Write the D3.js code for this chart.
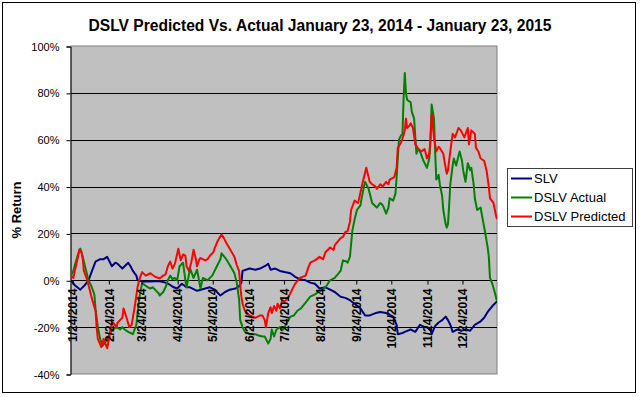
<!DOCTYPE html>
<html><head><meta charset="utf-8">
<script src="https://cdn.jsdelivr.net/npm/d3@7"></script>
<style>body{margin:0;background:#fff}svg{display:block}text{font-family:Arial,"Liberation Sans",sans-serif;fill:#000}</style>
</head><body><svg id="c" width="640" height="397"></svg>
<script>
const title = "DSLV Predicted Vs. Actual January 23, 2014 - January 23, 2015";
const yTitle = "% Return";
const seriesNames = ["SLV", "DSLV Actual", "DSLV Predicted"];
const seriesColors = ["#000080", "#008000", "#FF0000"];
const yTicks = [-40, -20, 0, 20, 40, 60, 80, 100];
const xTickDates = ["2014-01-24","2014-02-24","2014-03-24","2014-04-24","2014-05-24","2014-06-24","2014-07-24","2014-08-24","2014-09-24","2014-10-24","2014-11-24","2014-12-24"];
const xDomain = ["2014-01-23", "2015-01-23"];

const slv = [["2014-01-23",0],["2014-01-26",-2],["2014-01-31",-4],["2014-02-04",-2],["2014-02-07",0],["2014-02-10",4],["2014-02-13",8],["2014-02-17",9],["2014-02-20",9],["2014-02-23",10],["2014-02-25",8],["2014-02-27",6],["2014-03-02",7.5],["2014-03-04",7],["2014-03-08",5],["2014-03-10",6],["2014-03-13",7.5],["2014-03-15",6],["2014-03-17",4],["2014-03-20",2],["2014-03-21",0],["2014-03-26",-0.5],["2014-04-01",-0.5],["2014-04-08",-0.3],["2014-04-14",-1],["2014-04-18",-2],["2014-04-21",-3],["2014-04-24",-3.5],["2014-04-28",-1.5],["2014-05-02",-3],["2014-05-05",-3],["2014-05-11",-4.5],["2014-05-18",-3.5],["2014-05-22",-3],["2014-05-26",-4],["2014-05-31",-6.5],["2014-06-04",-5],["2014-06-08",-4],["2014-06-13",-3.5],["2014-06-16",-2.5],["2014-06-18",-1],["2014-06-19",4],["2014-06-25",5],["2014-06-30",4.5],["2014-07-04",5],["2014-07-08",6],["2014-07-11",7],["2014-07-13",4.5],["2014-07-17",5],["2014-07-21",4],["2014-07-25",3.5],["2014-07-30",3],["2014-08-03",1.5],["2014-08-07",0.5],["2014-08-12",0],["2014-08-16",-1],["2014-08-20",-1.5],["2014-08-24",-3.5],["2014-08-29",-3],["2014-09-02",-4],["2014-09-06",-5],["2014-09-11",-7],["2014-09-15",-7.5],["2014-09-19",-8.5],["2014-09-23",-10],["2014-09-28",-12],["2014-10-02",-15],["2014-10-06",-15],["2014-10-11",-14],["2014-10-15",-13.5],["2014-10-20",-14],["2014-10-26",-15.5],["2014-10-29",-19],["2014-10-30",-23],["2014-11-03",-22.5],["2014-11-05",-22],["2014-11-10",-21],["2014-11-14",-22],["2014-11-18",-19],["2014-11-22",-20],["2014-11-24",-20],["2014-11-27",-21],["2014-11-28",-23],["2014-12-01",-19.5],["2014-12-04",-18],["2014-12-07",-17],["2014-12-10",-15.5],["2014-12-12",-17],["2014-12-14",-19],["2014-12-16",-22],["2014-12-20",-21],["2014-12-24",-21.5],["2014-12-27",-21],["2014-12-31",-21.5],["2015-01-04",-19],["2015-01-09",-17.5],["2015-01-12",-16],["2015-01-15",-13.5],["2015-01-19",-11],["2015-01-23",-9]];

const dslvActual = [["2014-01-23",2],["2014-01-25",4],["2014-01-26",6],["2014-01-29",11],["2014-01-31",13.5],["2014-02-01",12],["2014-02-03",8],["2014-02-05",4],["2014-02-07",0],["2014-02-09",-2],["2014-02-12",-6],["2014-02-13",-12],["2014-02-15",-20],["2014-02-17",-25],["2014-02-19",-28],["2014-02-22",-26],["2014-02-24",-24],["2014-02-25",-23],["2014-02-28",-21],["2014-03-03",-20],["2014-03-06",-21],["2014-03-08",-20],["2014-03-10",-21],["2014-03-13",-22],["2014-03-15",-22.5],["2014-03-17",-23],["2014-03-20",-19],["2014-03-21",-14],["2014-03-23",-6],["2014-03-25",-1],["2014-03-27",-2],["2014-03-30",-3],["2014-04-01",-3.5],["2014-04-03",-3],["2014-04-05",-4],["2014-04-08",-5.5],["2014-04-09",-6.5],["2014-04-12",-5],["2014-04-14",-3],["2014-04-16",0],["2014-04-18",2],["2014-04-20",0.5],["2014-04-22",1],["2014-04-24",0],["2014-04-26",6],["2014-04-29",7.5],["2014-05-01",0],["2014-05-02",-3],["2014-05-05",5],["2014-05-08",1],["2014-05-11",4.5],["2014-05-14",-3.5],["2014-05-16",1],["2014-05-20",0],["2014-05-24",2],["2014-05-28",6],["2014-05-31",9],["2014-06-01",11.5],["2014-06-05",9],["2014-06-08",6.5],["2014-06-12",3],["2014-06-14",-1],["2014-06-16",-8],["2014-06-17",-17],["2014-06-19",-20],["2014-06-21",-22],["2014-06-25",-23],["2014-06-30",-23],["2014-07-02",-23.5],["2014-07-06",-24],["2014-07-08",-24],["2014-07-10",-26],["2014-07-11",-27],["2014-07-13",-25],["2014-07-14",-21],["2014-07-16",-24],["2014-07-18",-21],["2014-07-21",-20],["2014-07-24",-21],["2014-07-26",-19],["2014-07-30",-15.5],["2014-08-02",-15],["2014-08-05",-13],["2014-08-08",-12],["2014-08-12",-9.5],["2014-08-16",-7],["2014-08-20",-6],["2014-08-23",-5],["2014-08-26",-4],["2014-08-29",-3],["2014-09-02",0],["2014-09-06",1],["2014-09-11",4],["2014-09-13",8.5],["2014-09-16",8],["2014-09-17",7.5],["2014-09-19",10],["2014-09-21",21],["2014-09-23",26],["2014-09-25",30],["2014-09-28",32],["2014-09-29",35],["2014-10-01",40],["2014-10-02",42],["2014-10-05",39],["2014-10-06",37],["2014-10-08",33],["2014-10-10",32],["2014-10-12",31],["2014-10-15",33],["2014-10-17",32],["2014-10-18",31],["2014-10-20",28.5],["2014-10-22",31],["2014-10-23",35],["2014-10-26",34],["2014-10-28",37],["2014-10-29",44],["2014-10-31",60],["2014-11-02",62],["2014-11-03",62],["2014-11-04",78],["2014-11-05",88.5],["2014-11-06",80],["2014-11-07",77],["2014-11-10",76],["2014-11-11",72],["2014-11-13",69],["2014-11-14",61],["2014-11-15",54],["2014-11-16",56],["2014-11-18",55],["2014-11-21",51],["2014-11-24",48],["2014-11-26",52],["2014-11-27",60],["2014-11-28",75],["2014-11-29",72],["2014-11-30",69],["2014-12-01",55],["2014-12-02",43],["2014-12-04",45],["2014-12-05",41],["2014-12-07",36],["2014-12-08",30],["2014-12-10",24],["2014-12-11",22.5],["2014-12-12",24],["2014-12-13",32],["2014-12-14",41],["2014-12-16",49],["2014-12-17",52],["2014-12-19",49],["2014-12-21",53],["2014-12-22",55],["2014-12-24",51],["2014-12-25",47],["2014-12-27",42],["2014-12-29",50],["2014-12-31",47],["2015-01-01",48],["2015-01-03",41],["2015-01-04",35],["2015-01-06",30],["2015-01-09",31],["2015-01-10",28],["2015-01-13",20],["2015-01-15",14],["2015-01-16",10],["2015-01-17",1],["2015-01-19",-1.5],["2015-01-21",-5],["2015-01-23",-9]];

const dslvPredicted = [["2014-01-23",2],["2014-01-25",1],["2014-01-27",5.5],["2014-01-29",10],["2014-01-30",13],["2014-02-01",12],["2014-02-02",9.5],["2014-02-03",4],["2014-02-06",0],["2014-02-08",-4],["2014-02-10",-8],["2014-02-13",-13],["2014-02-14",-20],["2014-02-15",-25],["2014-02-18",-28.5],["2014-02-20",-25],["2014-02-23",-29],["2014-02-25",-24],["2014-02-26",-20],["2014-02-28",-18],["2014-03-03",-20],["2014-03-04",-18],["2014-03-06",-17],["2014-03-08",-16],["2014-03-09",-12],["2014-03-11",-15],["2014-03-14",-20],["2014-03-16",-19],["2014-03-19",-10],["2014-03-21",-3],["2014-03-23",1],["2014-03-25",3.5],["2014-03-28",2],["2014-04-01",3],["2014-04-05",1.5],["2014-04-08",1],["2014-04-09",0.8],["2014-04-12",2],["2014-04-14",2.5],["2014-04-16",6],["2014-04-18",8],["2014-04-20",5],["2014-04-22",7],["2014-04-25",13.5],["2014-04-27",8.5],["2014-04-29",11],["2014-05-01",10.5],["2014-05-02",6],["2014-05-04",4],["2014-05-06",7.5],["2014-05-08",13],["2014-05-10",9],["2014-05-11",6],["2014-05-13",9],["2014-05-14",9.5],["2014-05-18",8.5],["2014-05-20",9],["2014-05-22",10.5],["2014-05-25",12],["2014-05-26",13.5],["2014-05-28",16],["2014-05-30",18],["2014-06-01",19.5],["2014-06-03",18],["2014-06-05",16],["2014-06-08",13.5],["2014-06-12",10],["2014-06-14",6.5],["2014-06-16",4],["2014-06-17",-2],["2014-06-18",-7],["2014-06-19",-10],["2014-06-21",-13],["2014-06-25",-15],["2014-06-30",-16],["2014-07-04",-15],["2014-07-06",-15],["2014-07-08",-17],["2014-07-09",-20],["2014-07-11",-14],["2014-07-13",-11.5],["2014-07-14",-14],["2014-07-16",-11],["2014-07-18",-13],["2014-07-19",-10],["2014-07-21",-12],["2014-07-23",-8.5],["2014-07-25",-9],["2014-07-28",-7.5],["2014-07-30",-5.5],["2014-08-03",-1.5],["2014-08-07",1],["2014-08-12",2],["2014-08-14",5],["2014-08-16",7.5],["2014-08-20",8.5],["2014-08-24",10],["2014-08-27",9],["2014-08-29",12],["2014-09-02",14],["2014-09-05",13],["2014-09-06",15],["2014-09-11",18],["2014-09-13",18.5],["2014-09-15",20.5],["2014-09-17",21],["2014-09-19",25],["2014-09-20",30],["2014-09-23",34],["2014-09-26",33],["2014-09-28",37.5],["2014-09-30",42],["2014-10-03",48],["2014-10-05",44],["2014-10-06",42],["2014-10-08",41],["2014-10-11",40],["2014-10-12",39],["2014-10-15",41],["2014-10-17",40],["2014-10-20",42],["2014-10-22",41],["2014-10-23",43],["2014-10-27",44],["2014-10-29",48],["2014-10-30",56.5],["2014-11-02",59],["2014-11-04",62],["2014-11-05",64],["2014-11-06",69],["2014-11-07",65],["2014-11-09",66],["2014-11-10",67],["2014-11-12",65],["2014-11-14",58],["2014-11-16",56.5],["2014-11-19",55],["2014-11-22",56],["2014-11-24",52],["2014-11-26",54],["2014-11-27",60],["2014-11-28",71],["2014-11-29",66],["2014-11-30",61],["2014-12-02",55],["2014-12-04",57],["2014-12-05",56.5],["2014-12-08",54],["2014-12-10",48],["2014-12-11",45.5],["2014-12-12",47],["2014-12-14",55],["2014-12-16",62.5],["2014-12-18",61],["2014-12-21",65],["2014-12-23",64],["2014-12-26",61],["2014-12-29",65],["2014-12-30",58],["2015-01-01",64],["2015-01-04",62.5],["2015-01-05",56.5],["2015-01-07",55],["2015-01-09",52],["2015-01-12",51],["2015-01-14",47],["2015-01-16",40],["2015-01-17",35],["2015-01-20",33],["2015-01-22",28],["2015-01-23",26]];

const parse = d3.timeParse("%Y-%m-%d");
const fmt = d3.timeFormat("%-m/%-d/%Y");
const svg = d3.select("#c");
const W = 640, H = 397;
const P = {l: 71, r: 497, t: 46, b: 374};

// outer frame
svg.append("rect").attr("x", 0).attr("y", 0).attr("width", W).attr("height", H).attr("fill", "#fff");
svg.append("rect").attr("x", 2.5).attr("y", 2.5).attr("width", 633).attr("height", 390)
  .attr("fill", "#fff").attr("stroke", "#000").attr("stroke-width", 1);

const x = d3.scaleTime().domain(xDomain.map(parse)).range([P.l, P.r]);
const y = d3.scaleLinear().domain([-40, 100]).range([P.b, P.t]);

// plot area
svg.append("rect").attr("x", P.l).attr("y", P.t).attr("width", P.r - P.l).attr("height", P.b - P.t)
  .attr("fill", "#C0C0C0").attr("stroke", "#808080").attr("stroke-width", 1);

// grid lines
svg.append("g").selectAll("line").data(yTicks.filter(v => v > -40 && v < 100)).join("line")
  .attr("x1", P.l).attr("x2", P.r).attr("y1", d => Math.round(y(d)) + 0.5).attr("y2", d => Math.round(y(d)) + 0.5)
  .attr("stroke", "#000").attr("stroke-width", 1);

// y axis
const yAxis = d3.axisLeft(y).tickValues(yTicks).tickFormat(d => d + "%").tickSize(4).tickPadding(7);
const gy = svg.append("g").attr("transform", `translate(${P.l - 0.5},0.5)`).call(yAxis);
gy.select(".domain").attr("stroke", "#000");
gy.selectAll(".tick line").attr("stroke", "#000");
gy.selectAll("text").attr("font-size", 11).attr("font-family", "Arial, 'Liberation Sans', sans-serif").attr("fill", "#000");

// lines
const clipId = "clip";
svg.append("clipPath").attr("id", clipId).append("rect")
  .attr("x", P.l).attr("y", P.t).attr("width", P.r - P.l).attr("height", P.b - P.t);
const line = d3.line().x(d => x(parse(d[0]))).y(d => y(d[1]));
const allSeries = [slv, dslvActual, dslvPredicted];
const lg = svg.append("g").attr("clip-path", `url(#${clipId})`);
allSeries.forEach((s, i) => {
  lg.append("path").datum(s).attr("d", line).attr("fill", "none")
    .attr("stroke", seriesColors[i]).attr("stroke-width", 2).attr("stroke-linejoin", "round");
});

// x axis at 0%
const xAxis = d3.axisBottom(x).tickValues(xTickDates.map(parse)).tickFormat(fmt).tickSize(4).tickSizeOuter(0);
const gx = svg.append("g").attr("transform", `translate(0.5,${Math.round(y(0)) + 0.5})`).call(xAxis);
gx.select(".domain").remove();
gx.selectAll(".tick line").attr("stroke", "#000");
gx.selectAll("text").attr("font-size", 12).attr("font-weight", "bold").attr("font-family", "Arial, 'Liberation Sans', sans-serif").attr("fill", "#000")
  .attr("transform", "rotate(-90)").attr("text-anchor", "end").attr("x", -8).attr("y", 0).attr("dy", "0.35em");

// title
svg.append("text").attr("x", 320).attr("y", 31).attr("text-anchor", "middle")
  .attr("font-size", 15.6).attr("font-weight", "bold").text(title);

// y title
svg.append("text").attr("transform", `translate(21,${(P.t + P.b) / 2}) rotate(-90)`).attr("text-anchor", "middle")
  .attr("font-size", 13).attr("font-weight", "bold").text(yTitle);

// legend
const L = {x: 507, y: 168, w: 125, h: 58};
svg.append("rect").attr("x", L.x + 0.5).attr("y", L.y + 0.5).attr("width", L.w).attr("height", L.h)
  .attr("fill", "#fff").attr("stroke", "#404040").attr("stroke-width", 1);
const items = svg.append("g").selectAll("g").data(seriesNames).join("g")
  .attr("transform", (d, i) => `translate(${L.x},${L.y + 10 + i * 19})`);
items.append("line").attr("x1", 4).attr("x2", 25).attr("y1", 0.5).attr("y2", 0.5)
  .attr("stroke", (d, i) => seriesColors[i]).attr("stroke-width", 2);
items.append("text").attr("x", 27).attr("y", 0).attr("dy", "0.36em").attr("font-size", 13).text(d => d);
</script>
</body></html>
